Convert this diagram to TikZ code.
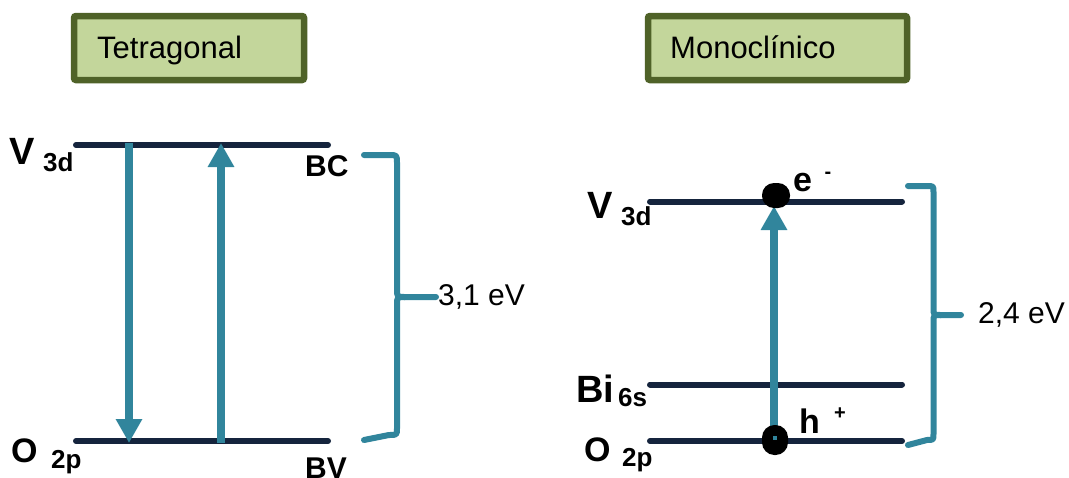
\documentclass[tikz,border=0pt]{standalone}
\usepackage{fontspec}
\setmainfont{Liberation Sans}
\usetikzlibrary{arrows.meta}
\definecolor{navy}{HTML}{15243D}
\definecolor{teal}{HTML}{31859C}
\definecolor{boxfill}{HTML}{C3D69B}
\definecolor{boxline}{HTML}{4F6228}
\begin{document}
\begin{tikzpicture}[x=1pt,y=-1pt,
  level/.style={draw=navy,line width=6pt,line cap=round},
  trans/.style={draw=teal,line width=8.5pt,-{Triangle[width=25pt,length=24pt]}},
  bracepath/.style={draw=teal,line width=6pt,line cap=round,line join=round},
  titlebox/.style={draw=boxline,fill=boxfill,line width=6.5pt,rounded corners=2pt},
  titletext/.style={inner sep=0pt,anchor=base west,font=\fontsize{31}{34}\selectfont},
  big/.style={inner sep=0pt,anchor=base west,font=\bfseries\fontsize{38}{40}\selectfont},
  mid/.style={inner sep=0pt,anchor=base west,font=\bfseries\fontsize{34}{36}\selectfont},
  lab/.style={inner sep=0pt,anchor=base west,font=\bfseries\fontsize{30}{32}\selectfont},
  sub/.style={inner sep=0pt,anchor=base west,font=\bfseries\fontsize{26}{28}\selectfont},
  sup/.style={inner sep=0pt,anchor=base,font=\bfseries\fontsize{20}{22}\selectfont},
  gap/.style={inner sep=0pt,anchor=base west,font=\fontsize{30}{34}\selectfont}
]
\useasboundingbox (0,0) rectangle (1069,477);

% title boxes
\draw[titlebox] (74,16) rectangle (304,80);
\node[titletext] (ttetra) at (97,58) {Tetragonal};
\draw[titlebox] (648,16) rectangle (907,80);
\node[titletext] (tmono) at (670,58) {Monoclínico};

% ---------- left diagram ----------
\coordinate (lvA) at (76,145);
\coordinate (lvB) at (328,145);
\coordinate (loA) at (76,441);
\coordinate (loB) at (328,441);
\draw[level] (lvA) -- (lvB);
\draw[level] (loA) -- (loB);

\node[big] (lV) at (9,164) {V};
\node[sub] (lV3d) at (43,171) {3d};
\node[mid] (lO) at (11,462) {O};
\node[sub] (lO2p) at (51,468) {2p};
\node[lab] (lBC) at (305,176) {BC};
\node[lab] (lBV) at (305,478) {BV};

\coordinate (dnS) at (129,143);
\coordinate (dnE) at (129,443);
\coordinate (upS) at (221,443);
\coordinate (upE) at (221,143);
\draw[trans] (dnS) -- (dnE);
\draw[trans] (upS) -- (upE);

% left brace
\coordinate (lbT) at (364,155);
\coordinate (lbM) at (436,297);
\coordinate (lbB) at (364,440);
\draw[bracepath] (lbT) -- (389,155) .. controls (397,155) .. (397,163)
  -- (397,289) .. controls (397,297) .. (405,297) -- (lbM);
\draw[bracepath] (405,297) .. controls (397,297) .. (397,305)
  -- (397,428) .. controls (397,435) .. (389,435) -- (lbB);
\node[gap] (lgap) at (438,305) {3,1 eV};

% ---------- right diagram ----------
\coordinate (rvA) at (650,201.5);
\coordinate (rvB) at (902,201.5);
\coordinate (rbA) at (650,384.5);
\coordinate (rbB) at (902,384.5);
\coordinate (roA) at (650,441);
\coordinate (roB) at (902,441);
\draw[level] (rvA) -- (rvB);
\draw[level] (rbA) -- (rbB);
\draw[level] (roA) -- (roB);

\node[big] (rV) at (587,218) {V};
\node[sub] (rV3d) at (621,225) {3d};
\node[big] (rBi) at (576,402) {Bi};
\node[sub] (rBi6s) at (618,406) {6s};
\node[mid] (rO) at (584,461) {O};
\node[sub] (rO2p) at (622,466) {2p};

\coordinate (rupS) at (774,440);
\coordinate (rupE) at (774,206);
\draw[trans] (rupS) -- (rupE);

\node[fill=black,minimum width=28pt,minimum height=25pt,inner sep=0pt,
  rounded corners=12pt] (elec) at (776,195.5) {};
\node[fill=black,minimum width=26pt,minimum height=30pt,inner sep=0pt,
  rounded corners=12.5pt] (hole) at (775,440) {};
\fill[teal] (772.5,436) rectangle (776.5,440);

\node[mid] (eminus) at (793,191) {e};
\node[sup] (eminussup) at (828,178) {-};
\node[mid] (hplus) at (799,433) {h};
\node[sup] (hplussup) at (840,419) {+};

% right brace
\coordinate (rbT) at (908,186);
\coordinate (rbM) at (961,315);
\coordinate (rbBt) at (908,445);
\draw[bracepath] (rbT) -- (927,186) .. controls (933.5,186) .. (933.5,192)
  -- (933.5,308) .. controls (933.5,315) .. (941,315) -- (rbM);
\draw[bracepath] (941,315) .. controls (933.5,315) .. (933.5,322)
  -- (933.5,434) .. controls (933.5,440) .. (927,440) -- (rbBt);
\node[gap] (rgap) at (978,323) {2,4 eV};
\end{tikzpicture}
\end{document}
